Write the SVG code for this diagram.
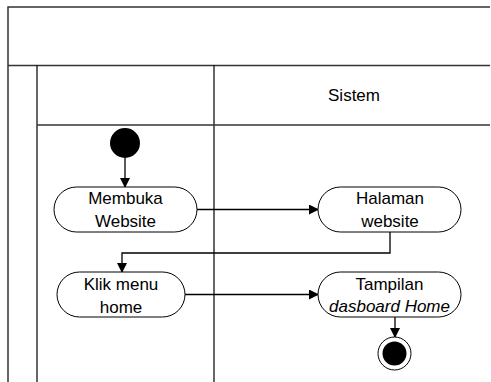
<svg xmlns="http://www.w3.org/2000/svg" width="491" height="382" viewBox="0 0 491 382">
  <style>
    .frame { fill: none; stroke: #333; stroke-width: 1.5; }
    .lane { fill: none; stroke: #000; stroke-width: 1.2; }
    .act { fill: #fff; stroke: #000; stroke-width: 1; }
    .lbl { font-family: "Liberation Sans", Arial, sans-serif; font-size: 17px; fill: #000; text-anchor: middle; }
    .conn { fill: none; stroke: #000; stroke-width: 1.3; }
  </style>
  <defs>
    <marker id="arrow" markerWidth="10" markerHeight="10" refX="9" refY="5" orient="auto" markerUnits="userSpaceOnUse">
      <path d="M0,0 L10,5 L0,10 Z" fill="#000"/>
    </marker>
  </defs>

  <!-- swimlane frame -->
  <g id="frame">
    <path class="frame" d="M490,7 H8 V382"/>
    <line class="frame" x1="8" y1="65.5" x2="490" y2="65.5"/>
    <line class="lane" x1="37" y1="65.5" x2="37" y2="382"/>
    <line class="lane" x1="214" y1="65.5" x2="214" y2="382"/>
    <line class="frame" x1="37" y1="125" x2="490" y2="125"/>
    <text class="lbl" x="354" y="101">Sistem</text>
  </g>

  <!-- connectors -->
  <g id="connectors">
    <line class="conn" x1="125" y1="158" x2="125" y2="187" marker-end="url(#arrow)"/>
    <line class="conn" x1="197" y1="209.5" x2="318" y2="209.5" marker-end="url(#arrow)"/>
    <path class="conn" d="M390,232 V253 H122 V272" marker-end="url(#arrow)"/>
    <line class="conn" x1="185" y1="294.5" x2="318" y2="294.5" marker-end="url(#arrow)"/>
    <line class="conn" x1="395" y1="317" x2="395" y2="337" marker-end="url(#arrow)"/>
  </g>

  <!-- initial node -->
  <g id="start">
    <circle cx="125" cy="143" r="15" fill="#000"/>
  </g>

  <g id="membuka-website">
    <rect class="act" x="54" y="187" width="143" height="45" rx="22.5"/>
    <text class="lbl" x="125.5" y="204">Membuka</text>
    <text class="lbl" x="125.5" y="227">Website</text>
  </g>

  <g id="halaman-website">
    <rect class="act" x="318" y="187" width="143" height="45" rx="22.5"/>
    <text class="lbl" x="390" y="204">Halaman</text>
    <text class="lbl" x="390" y="227">website</text>
  </g>

  <g id="klik-menu-home">
    <rect class="act" x="57" y="272" width="128" height="45" rx="22.5"/>
    <text class="lbl" x="121" y="290">Klik menu</text>
    <text class="lbl" x="121" y="313">home</text>
  </g>

  <g id="tampilan-dasboard">
    <rect class="act" x="318" y="272" width="143" height="45" rx="22.5"/>
    <text class="lbl" x="389.5" y="290">Tampilan</text>
    <text class="lbl" x="389.5" y="312" font-style="italic">dasboard Home</text>
  </g>

  <!-- final node -->
  <g id="end">
    <circle cx="394.5" cy="353.5" r="16.5" fill="#fff" stroke="#000" stroke-width="1"/>
    <circle cx="394.5" cy="353.5" r="12" fill="#000"/>
  </g>
</svg>
